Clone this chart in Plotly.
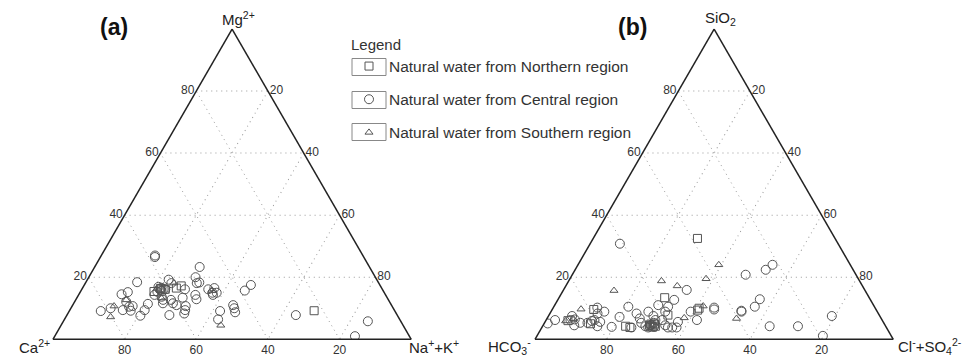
import plotly.graph_objects as go

# ---------------- data (percent) ----------------
# Panel (a): cations  a = Mg2+, b = Ca2+, c = Na+ + K+
a_north_mg  = [15.4, 16.1, 17.2, 16.5, 16.4, 9.2]
a_north_ca  = [64.1, 60.6, 55.6, 57.3, 61.8, 22.5]
a_north_nak = [20.5, 23.3, 27.2, 26.2, 21.8, 68.3]

a_central_mg  = [26.5, 27.0, 23.3, 18.4, 14.5, 15.2, 9.1, 10.0, 9.4, 12.1, 10.5, 10.7, 9.2,
                 7.6, 9.4, 11.4, 14.3, 15.9, 16.2, 15.6, 16.6, 16.2, 15.3, 16.9, 16.1,
                 11.6, 12.7, 13.7, 19.2, 18.1, 12.7, 11.6, 11.0, 7.8, 16.1, 13.4, 10.7,
                 9.4, 8.3, 20.0, 18.1, 18.3, 14.3, 12.9, 16.1, 16.5, 15.0, 15.0, 14.3,
                 15.7, 17.5, 11.0, 10.0, 8.7, 9.1, 6.4, 7.8, 5.8, 1.0]
a_central_ca  = [58.3, 58.0, 47.4, 67.3, 73.6, 71.5, 82.1, 78.9, 75.8, 73.5, 73.5, 72.4, 73.7,
                 71.8, 69.7, 67.8, 64.5, 62.0, 62.2, 61.9, 61.4, 61.0, 63.2, 62.1, 60.6,
                 63.5, 62.9, 62.8, 58.1, 57.9, 60.7, 60.7, 60.0, 63.6, 55.1, 57.1, 57.6,
                 58.4, 59.2, 50.2, 50.8, 50.0, 53.1, 53.5, 48.6, 46.7, 48.0, 46.8, 48.2,
                 38.6, 36.0, 44.2, 44.4, 44.8, 48.8, 50.7, 28.3, 9.2, 15.2]
a_central_nak = [15.2, 15.0, 29.3, 14.3, 11.9, 13.3, 8.8, 11.1, 14.8, 14.4, 16.0, 16.9, 17.1,
                 20.6, 20.9, 20.8, 21.2, 22.1, 21.6, 22.5, 22.0, 22.8, 21.5, 21.0, 23.3,
                 24.9, 24.4, 23.5, 22.7, 24.0, 26.6, 27.7, 29.0, 28.6, 28.8, 29.5, 31.7,
                 32.2, 32.5, 29.8, 31.1, 31.7, 32.6, 33.6, 35.3, 36.8, 37.0, 38.2, 37.5,
                 45.7, 46.5, 44.8, 45.6, 46.5, 42.1, 42.9, 63.9, 85.0, 83.8]

a_south_mg  = [10.7, 7.2, 12.7, 15.7, 4.5, 18.1, 13.3]
a_south_ca  = [77.6, 80.3, 73.2, 47.8, 50.9, 57.2, 63.1]
a_south_nak = [11.7, 12.5, 14.1, 36.5, 44.6, 24.7, 23.6]

# Panel (b): a = SiO2, b = HCO3-, c = Cl- + SO4 2-
b_north_si  = [9.6, 4.2, 4.5, 3.9, 4.2, 4.9, 4.9, 4.2, 13.4, 7.8, 9.4, 10.0, 32.5, 6.0, 3.8, 5.0]
b_north_hco = [78.8, 72.6, 65.8, 65.2, 64.3, 65.2, 64.2, 65.5, 57.1, 59.0, 49.9, 49.2, 38.4, 87.8, 71.6, 82.0]
b_north_cls = [11.6, 23.2, 29.7, 30.9, 31.5, 29.9, 30.9, 30.3, 29.5, 33.2, 40.7, 40.8, 29.1, 6.2, 24.6, 13.0]

b_central_si  = [5.1, 6.2, 7.5, 6.2, 6.4, 4.5, 5.3, 5.3, 5.9, 6.2, 10.2, 8.3, 8.9, 5.6, 4.2,
                 4.0, 7.2, 10.5, 3.8, 8.3, 6.7, 5.3, 8.9, 4.2, 3.8, 7.5, 6.2, 5.3, 11.0,
                 8.9, 10.5, 6.2, 4.5, 3.8, 3.8, 3.8, 12.7, 5.6, 15.9, 8.9, 6.2, 10.2, 9.6,
                 30.8, 22.4, 24.0, 20.8, 12.9, 10.5, 8.9, 9.2, 7.5, 4.2, 4.2, 1.1, 4.6, 4.0]
b_central_hco = [93.9, 91.3, 85.9, 87.0, 85.7, 86.8, 84.7, 82.7, 81.2, 80.3, 77.5, 78.4, 76.2, 79.0, 80.5,
                 76.6, 72.8, 68.7, 71.2, 67.5, 67.4, 67.7, 63.9, 67.1, 66.5, 63.2, 63.3, 64.2, 60.1,
                 59.2, 57.6, 61.4, 61.4, 61.0, 59.8, 58.6, 54.8, 57.3, 49.7, 52.1, 51.7, 44.9, 45.2,
                 60.9, 24.4, 21.7, 30.8, 30.8, 33.4, 37.9, 37.8, 13.4, 32.4, 24.5, 19.1, 65.4, 64.8]
b_central_cls = [1.0, 2.5, 6.6, 6.8, 7.9, 8.7, 10.0, 12.0, 12.9, 13.5, 12.3, 13.3, 14.9, 15.4, 15.3,
                 19.4, 20.0, 20.8, 25.0, 24.2, 25.9, 27.0, 27.2, 28.7, 29.7, 29.3, 30.5, 30.5, 28.9,
                 31.9, 31.9, 32.4, 34.1, 35.2, 36.4, 37.6, 32.5, 37.1, 34.4, 39.0, 42.1, 44.9, 45.2,
                 8.3, 53.2, 54.3, 48.4, 56.3, 56.1, 53.2, 53.0, 79.1, 63.4, 71.3, 79.8, 30.0, 31.2]

b_south_si  = [5.9, 9.7, 15.7, 6.9, 10.7, 24.0, 18.8, 17.2, 19.5, 6.7, 6.5]
b_south_hco = [88.5, 82.3, 70.1, 54.9, 47.7, 36.7, 55.3, 51.7, 42.5, 40.4, 86.0]
b_south_cls = [5.6, 8.0, 14.2, 38.2, 41.6, 39.3, 25.9, 31.1, 38.0, 52.9, 7.5]

series_names = ["Natural water from Northern region",
                "Natural water from Central region",
                "Natural water from Southern region"]
tick_values = [20, 40, 60, 80]
titles_a = ["Mg<sup>2+</sup>", "Ca<sup>2+</sup>", "Na<sup>+</sup>+K<sup>+</sup>"]
titles_b = ["SiO<sub>2</sub>", "HCO<sub>3</sub><sup>-</sup>", "Cl<sup>-</sup>+SO<sub>4</sub><sup>2-</sup>"]

# ---------------- figure ----------------
FONT = "Liberation Sans, Arial, Helvetica, sans-serif"
MARK = "#555555"
symbols = ["square-open", "circle-open", "triangle-up-open"]
sizes = [8, 9, 7]
W, H = 967, 356

fig = go.Figure()
panel_a = [(a_north_mg, a_north_ca, a_north_nak),
           (a_central_mg, a_central_ca, a_central_nak),
           (a_south_mg, a_south_ca, a_south_nak)]
panel_b = [(b_north_si, b_north_hco, b_north_cls),
           (b_central_si, b_central_hco, b_central_cls),
           (b_south_si, b_south_hco, b_south_cls)]

for sub, panel, show in (("ternary", panel_a, True), ("ternary2", panel_b, False)):
    for i, (aa, bb, cc) in enumerate(panel):
        fig.add_trace(go.Scatterternary(
            a=aa, b=bb, c=cc, mode="markers", subplot=sub,
            name=series_names[i], legendgroup=series_names[i], showlegend=show,
            marker=dict(symbol=symbols[i], size=sizes[i], color=MARK,
                        line=dict(color=MARK, width=1)),
        ))


def axis():
    return dict(
        title=dict(text=""),
        tickvals=tick_values, ticks="", showticklabels=True,
        tickfont=dict(size=12, color="#333", family=FONT),
        showgrid=True, gridcolor="#9a9a9a", gridwidth=1, griddash="1px,4px",
        showline=True, linecolor="#222", linewidth=1.5, min=0,
    )


def ternary(xdom):
    return dict(
        sum=100, bgcolor="white",
        domain=dict(x=xdom, y=[0.047, 1 - 29 / H]),
        aaxis=axis(), baxis=axis(), caxis=axis(),
    )


def label(text, x, y, anchor="center", size=15, color="#222"):
    return dict(text=text, x=x / W, y=1 - y / H, xref="paper", yref="paper",
                xanchor=anchor, yanchor="middle", showarrow=False,
                font=dict(size=size, color=color, family=FONT))


fig.update_layout(
    width=W, height=H,
    margin=dict(l=0, r=0, t=0, b=0, pad=0, autoexpand=False),
    paper_bgcolor="white", plot_bgcolor="white",
    font=dict(family=FONT, color="#333"),
    ternary=ternary([0.0, 0.48]),
    ternary2=ternary([0.5, 0.977]),
    showlegend=True,
    legend=dict(
        title=dict(text="Legend", font=dict(size=15, color="#333", family=FONT)),
        x=349 / W, y=1 - 30 / H, xanchor="left", yanchor="top",
        bgcolor="rgba(0,0,0,0)", font=dict(size=15.5, color="#333", family=FONT),
        traceorder="grouped", tracegroupgap=10, itemwidth=30,
    ),
    annotations=[
        label("<b>(a)</b>", 114, 27, size=23, color="#111"),
        label("<b>(b)</b>", 632, 27, size=23, color="#111"),
        label(titles_a[0], 238, 19),
        label(titles_a[1], 34, 346),
        label(titles_a[2], 434, 346),
        label(titles_b[0], 720, 19),
        label(titles_b[1], 509, 346),
        label(titles_b[2], 930, 346),
    ],
)

# boxes around legend symbols
for yc in (67, 100, 132):
    fig.add_shape(type="rect", xref="paper", yref="paper",
                  x0=352 / W, x1=386 / W, y0=1 - (yc + 8.5) / H, y1=1 - (yc - 8.5) / H,
                  line=dict(color="#888", width=1), fillcolor="rgba(0,0,0,0)")

fig.write_html("out.html", config={"displayModeBar": False},
               post_script="document.body.style.margin='0';")
